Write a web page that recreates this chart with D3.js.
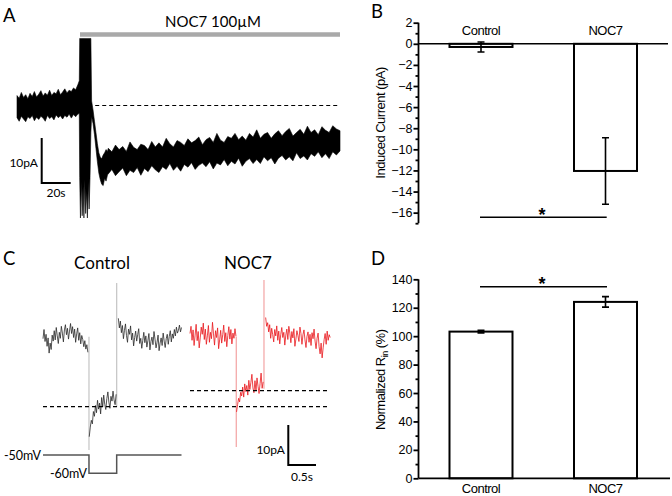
<!DOCTYPE html>
<html>
<head>
<meta charset="utf-8">
<script src="https://cdn.jsdelivr.net/npm/d3@7"></script>
<style>
  html, body { margin: 0; padding: 0; background: #fff; }
  svg { display: block; }
  .lbl { font-family: Lato, "Open Sans", sans-serif; fill: #000; }
  .ax text { font-family: "Liberation Sans", Arial, sans-serif; font-size: 12.5px; fill: #000; }
  .ax path, .ax line { stroke: #000; stroke-width: 1.8; }
  .arial { font-family: "Liberation Sans", Arial, sans-serif; fill: #000; }
</style>
</head>
<body>
<svg id="fig" width="672" height="496"></svg>
<script>
// ---------- Panel A: NOC7 induced current, rows are [time s, upper pA, lower pA] ----------
const aBaseline = [
  [0, 2.2, -2.7], [1.5, 1.6, -3.5], [3, 2.9, -2.4], [4.5, 1.8, -3.0], [6, 2.4, -3.6],
  [7.5, 1.5, -2.5], [9, 2.7, -2.9], [10.5, 2.0, -2.2], [12, 3.1, -3.4], [13.5, 1.9, -2.6],
  [15, 2.5, -3.1], [16.5, 3.3, -2.4], [18, 2.1, -2.8], [19.5, 2.8, -3.5], [21, 2.3, -2.2],
  [22.5, 3.4, -2.9], [24, 2.2, -2.5], [25.5, 2.9, -3.2], [27, 2.6, -2.1], [28.5, 3.6, -2.7],
  [30, 2.4, -2.3], [31.5, 3.0, -3.0], [33, 3.7, -2.2], [34.5, 2.8, -2.6], [36, 3.4, -1.9],
  [37.5, 3.1, -2.8], [39, 3.9, -2.0], [40.5, 3.5, -2.5], [42, 4.6, -1.9], [43, 5.5, -1.8]
];
const aArtifact = [
  [43.3, 14.9, -16], [43.8, 14.9, -25], [44.4, 14.9, -17], [45, 14.9, -24.5], [45.6, 14.9, -18],
  [46.2, 14.9, -25], [46.8, 14.9, -16.5], [47.4, 14.9, -24], [48, 14.9, -19], [48.6, 14.9, -25],
  [49.2, 14.9, -17], [49.8, 14.9, -23], [50.4, 14.9, -16], [51, 14.9, -6]
];
const aDecay = [
  [51.5, 1.0, -2.5], [52.5, -1.0, -4.0], [53.5, -3.5, -6.5], [54.5, -6.0, -9.5],
  [55.5, -8.5, -12.5], [56.5, -10.5, -15.0], [57.5, -11.5, -16.5], [58.5, -11.8, -17.5],
  [59.5, -11.0, -17.8], [60.5, -10.5, -16.2], [61.5, -9.8, -16.8], [62.5, -10.2, -15.4]
];
const aRecovery = [
  [63, -9.5, -15.2], [65.5, -10.3, -14.2], [68, -8.8, -15.6], [70.5, -9.8, -14.7], [73, -9.1, -13.9],
  [75.5, -10.2, -15.6], [78, -8.1, -14.4], [80.5, -9.3, -14.9], [83, -9.8, -13.8], [85.5, -8.6, -15.5],
  [88, -8.9, -14.0], [90.5, -9.8, -14.7], [93, -8.0, -13.4], [95.5, -9.2, -14.3], [98, -8.3, -14.9],
  [100.5, -9.2, -13.6], [103, -7.3, -14.2], [105.5, -8.5, -12.9], [108, -9.2, -14.4], [110.5, -7.8, -13.5],
  [113, -8.2, -14.6], [115.5, -8.9, -13.1], [118, -7.4, -13.7], [120.5, -8.3, -12.7], [123, -7.8, -14.2],
  [125.5, -7.0, -13.3], [128, -8.7, -12.8], [130.5, -7.6, -13.6], [133, -7.1, -12.5], [135.5, -8.2, -14.1],
  [138, -6.2, -12.8], [140.5, -7.7, -13.2], [143, -8.2, -12.0], [145.5, -6.9, -13.4], [148, -7.3, -12.4],
  [150.5, -6.2, -13.0], [153, -7.6, -11.7], [155.5, -6.8, -13.5], [158, -7.7, -12.4], [160.5, -6.2, -11.8],
  [163, -7.0, -12.9], [165.5, -5.4, -12.0], [168, -7.3, -12.9], [170.5, -6.4, -11.4], [173, -6.0, -12.3],
  [175.5, -7.3, -11.6], [178, -6.3, -13.0], [180.5, -5.6, -11.7], [183, -6.7, -11.1], [185.5, -5.8, -12.1],
  [188, -5.1, -11.4], [190.5, -6.8, -12.3], [193, -6.0, -10.5], [195.5, -5.3, -11.8], [198, -6.4, -11.2],
  [200.5, -4.6, -12.1], [203, -6.0, -10.7], [205.5, -5.4, -11.3], [208, -6.5, -10.3], [210.5, -4.7, -11.6],
  [213, -5.5, -10.7], [215.5, -6.0, -11.8], [218, -4.5, -10.3], [220.5, -5.2, -11.0], [223, -5.6, -10.1]
];
const aDrug = { label: "NOC7 100µM", start: 43.5, end: 223 };
const aScale = { pA: 10, s: 20 };

// ---------- Panel B: induced current ----------
const groups = ["Control", "NOC7"];
const currentMean = [-0.3, -12.05];
const currentSem = [0.47, 3.15];
const currentTicks = [-16, -14, -12, -10, -8, -6, -4, -2, 0, 2];
const currentMinor = [-17, -15, -13, -11, -9, -7, -5, -3, -1, 1];

// ---------- Panel C: Rin test pulses, values in pA sampled evenly over each segment ----------
const ctrlPre = [-0.5, 1.8, -1.2, 0.6, -2.4, -0.3, -4.1, -1.6, -3.2, 0.4, -1.1, 1.5, -0.8, 2.3, 0.2,
  -1.7, 1.1, -0.4, 2.6, 0.9, -1.3, 1.7, 3.0, 0.5, 2.1, -0.6, 1.4, 3.3, 0.8, 2.5, -0.2, 1.9, -1.4, 0.7,
  2.2, -0.9, 1.0, -1.8, 0.3, -0.7, -2.5, -1.0, -3.1, -2.0, -3.9];
const ctrlStep = [-25.0, -22.6, -20.9, -21.8, -18.7, -19.9, -17.2, -19.0, -15.9, -18.1, -16.6, -19.3,
  -15.2, -17.5, -14.6, -16.9, -18.2, -15.5, -13.8, -16.4, -17.9, -14.9, -16.1, -13.6, -15.8, -17.0, -14.4];
const ctrlPost = [4.6, 2.2, 3.9, 1.0, 2.8, -0.5, 1.6, 3.2, 0.3, -1.4, 1.9, 0.6, 2.7, -0.8, 0.9, -2.3,
  -0.2, 1.4, -1.1, 0.5, 2.0, -1.7, -0.4, -2.9, -0.9, 1.1, -1.5, 0.2, -2.6, -1.0, 0.8, -3.3, -1.2, -0.1,
  -2.0, 1.3, -0.6, -2.8, -1.4, 0.4, -3.5, -1.6, -0.3, -2.2, 0.9, -1.1, -2.7, -0.5, 0.6, -1.9, 0.1, 1.5,
  -1.3, 0.7, -0.4, 1.8, 0.2, 2.4, 0.9, 1.6, 2.9, 1.2, 2.3];
const nocPre = [0.8, 2.6, -0.9, 1.7, -2.2, 0.4, 3.1, -1.0, 1.3, -2.8, -0.3, 2.4, 0.6, 3.4, -0.7, 1.9,
  -1.9, 0.2, 2.8, -1.4, 1.1, -0.5, 3.6, 0.7, -2.1, 1.5, -0.2, 2.2, -3.0, -0.8, 1.6, -1.6, 0.5, 2.9,
  -1.2, 1.0, -2.5, 0.3, 2.5, -0.6, 1.8, -1.8, 0.9, -0.4, 2.0, 0.1];
const nocStep = [-18.8, -17.0, -15.4, -16.3, -13.9, -14.8, -12.6, -15.1, -11.8, -13.7, -12.2, -14.6,
  -10.9, -13.2, -11.5, -9.4, -12.8, -14.0, -11.0, -13.5, -10.3, -12.4, -14.2, -11.7, -9.1, -12.9, -11.3];
const nocPost = [4.8, 2.6, 3.5, 1.2, 3.0, -0.4, 2.1, 0.5, -1.3, 1.8, 0.2, 2.7, -0.9, 1.4, -1.8, 0.6,
  2.3, -0.2, 1.1, -2.1, 0.4, 1.9, -0.7, 2.6, 0.9, -1.5, 1.3, -0.3, 2.0, -2.4, -0.6, 1.5, 0.3, -1.2, 2.4,
  0.8, -1.9, 0.5, 1.7, -0.8, -2.7, 0.1, 1.2, -1.4, 0.6, -2.2, 1.0, -0.5, 1.9, -1.1, -3.0, -0.4, 0.9,
  -2.5, -4.3, -1.6, -5.3, -2.8, -0.7, 0.8, -1.9, 1.4, -0.9, 0.5, -0.2];
// segment time windows (s): pre, step, post
const ctrlWindows = [[0, 0.81], [0.835, 1.32], [1.36, 2.5]];
const nocWindows = [[0, 0.83], [0.84, 1.32], [1.365, 2.53]];
// capacitive transients: [time s, from pA, to pA]
const ctrlTransients = [[0.83, 0, -28.3], [1.33, 13.4, -17.5]];
const nocTransients = [[0.835, 0, -27.6], [1.335, 14.2, -13]];
const ctrlSteady = -17.5, nocSteady = -13.5;
const protocol = [[0, -50], [0.83, -50], [0.83, -60], [1.33, -60], [1.33, -50], [2.5, -50]];
const cScale = { pA: 10, s: 0.5 };

// ---------- Panel D: normalized Rin ----------
const rinMean = [103.2, 124.1];
const rinSem = [0.9, 3.7];
const rinTicks = [0, 20, 40, 60, 80, 100, 120, 140];
const rinMinor = [10, 30, 50, 70, 90, 110, 130];

const svg = d3.select("#fig");

// panel letters
[["A", 3, 22], ["B", 371, 18], ["C", 3, 265], ["D", 371, 265]].forEach(([t, x, y]) =>
  svg.append("text").attr("class", "lbl").attr("x", x).attr("y", y)
    .attr("font-size", 18.5).text(t));

// ===== A =====
const xA = d3.scaleLinear().domain([0, 223]).range([17, 340]);
const yA = d3.scaleLinear().domain([-25, 15]).range([218, 38]);
const gA = svg.append("g");

gA.append("line")
  .attr("x1", xA(aDrug.start)).attr("x2", xA(aDrug.end))
  .attr("y1", 34.5).attr("y2", 34.5)
  .attr("stroke", "#a9a9a9").attr("stroke-width", 4.5);
gA.append("text").attr("class", "lbl")
  .attr("x", 213).attr("y", 27).attr("text-anchor", "middle")
  .attr("font-size", 15).text(aDrug.label);

const areaA = d3.area()
  .x(d => xA(d[0])).y0(d => yA(d[2])).y1(d => yA(d[1]));
const traceA = aBaseline.concat(aArtifact, aDecay, aRecovery);
gA.append("path").datum(traceA)
  .attr("d", areaA).attr("fill", "#000")
  .attr("stroke", "#000").attr("stroke-width", 0.6);

gA.append("line")
  .attr("x1", xA(54)).attr("x2", xA(223))
  .attr("y1", yA(0)).attr("y2", yA(0))
  .attr("stroke", "#000").attr("stroke-width", 1.2).attr("stroke-dasharray", "4,3");

// scale bar A
const sbAx = 41.7, sbAy = 183;
const pxPerPA = yA(0) - yA(1), pxPerS = xA(1) - xA(0);
gA.append("path")
  .attr("d", `M${sbAx},${sbAy - aScale.pA * pxPerPA}V${sbAy}H${sbAx + aScale.s * pxPerS}`)
  .attr("fill", "none").attr("stroke", "#000").attr("stroke-width", 2);
gA.append("text").attr("class", "lbl").attr("x", 38).attr("y", 167)
  .attr("text-anchor", "end").attr("font-size", 12).text(aScale.pA + "pA");
gA.append("text").attr("class", "lbl").attr("x", 56).attr("y", 197)
  .attr("text-anchor", "middle").attr("font-size", 12).text(aScale.s + "s");

// ===== B and D shared x =====
const xBar = d3.scaleBand().domain(groups).range([418, 668.5])
  .paddingInner(0.494).paddingOuter(0.253);

function errorBars(g, means, sems, y) {
  groups.forEach((c, i) => {
    const cx = xBar(c) + xBar.bandwidth() / 2;
    const y1 = y(means[i] + sems[i]), y2 = y(means[i] - sems[i]);
    g.append("path")
      .attr("d", `M${cx},${y1}V${y2}M${cx - 3.5},${y1}H${cx + 3.5}M${cx - 3.5},${y2}H${cx + 3.5}`)
      .attr("stroke", "#000").attr("stroke-width", 1.6).attr("fill", "none");
  });
}

function yAxis(g, y, major, minor) {
  g.append("g").attr("class", "ax").attr("transform", "translate(418.5,0)")
    .call(d3.axisLeft(y).tickValues(minor).tickSize(3).tickFormat("").tickSizeOuter(0))
    .call(s => s.select(".domain").remove());
  g.append("g").attr("class", "ax").attr("transform", "translate(418.5,0)")
    .call(d3.axisLeft(y).tickValues(major).tickSize(5).tickPadding(1).tickSizeOuter(0))
    .call(s => s.select(".domain").attr("d", `M0,${y.range()[0]}V${y.range()[1]}`));
}

// ===== B =====
const yB = d3.scaleLinear().domain([-17, 2]).range([223.2, 22.7]);
const gB = svg.append("g");
yAxis(gB, yB, currentTicks, currentMinor);
gB.selectAll("rect.bar").data(groups).join("rect").attr("class", "bar")
  .attr("x", d => xBar(d)).attr("width", xBar.bandwidth())
  .attr("y", yB(0)).attr("height", (d, i) => yB(currentMean[i]) - yB(0))
  .attr("fill", "#fff").attr("stroke", "#000").attr("stroke-width", 2);
gB.append("line").attr("x1", 418.5).attr("x2", 668)
  .attr("y1", yB(0)).attr("y2", yB(0)).attr("stroke", "#000").attr("stroke-width", 1.6);
errorBars(gB, currentMean, currentSem, yB);
gB.selectAll("text.cat").data(groups).join("text").attr("class", "arial")
  .attr("x", d => xBar(d) + xBar.bandwidth() / 2).attr("y", 35)
  .attr("text-anchor", "middle").attr("font-size", 13).attr("letter-spacing", -0.5)
  .text(d => d);
gB.append("text").attr("class", "arial")
  .attr("transform", `translate(385,${yB(-7.5)}) rotate(-90)`)
  .attr("text-anchor", "middle").attr("font-size", 13).attr("letter-spacing", -0.5)
  .text("Induced Current (pA)");
gB.append("line").attr("x1", 480).attr("x2", 606.7).attr("y1", 217.3).attr("y2", 217.3)
  .attr("stroke", "#000").attr("stroke-width", 1.6);
gB.append("text").attr("class", "arial").attr("x", 542).attr("y", 221)
  .attr("text-anchor", "middle").attr("font-size", 18).attr("font-weight", "bold").text("*");

// ===== C =====
const gC = svg.append("g");
const yC = d3.scaleLinear().domain([-30, 15]).range([456.7, 276.7]);
const yV = d3.scaleLinear().domain([-60, -50]).range([473.3, 455]);
const xCtrl = d3.scaleLinear().domain([0, 2.5]).range([43, 181.5]);
const xNoc = d3.scaleLinear().domain([0, 2.53]).range([190, 330.2]);

function drawRecording(xs, segs, windows, transients, color, light) {
  transients.forEach(([t, a, b]) => {
    gC.append("line").attr("x1", xs(t)).attr("x2", xs(t))
      .attr("y1", yC(a)).attr("y2", yC(b))
      .attr("stroke", light).attr("stroke-width", 1.2);
  });
  segs.forEach((vals, k) => {
    const [t0, t1] = windows[k];
    const dt = (t1 - t0) / (vals.length - 1);
    const line = d3.line().x((v, i) => xs(t0 + i * dt)).y(v => yC(v));
    gC.append("path").datum(vals).attr("d", line)
      .attr("fill", "none").attr("stroke", color).attr("stroke-width", 0.8)
      .attr("stroke-linejoin", "round");
  });
}
drawRecording(xCtrl, [ctrlPre, ctrlStep, ctrlPost], ctrlWindows, ctrlTransients, "#2a2a2a", "#c4c4c4");
drawRecording(xNoc, [nocPre, nocStep, nocPost], nocWindows, nocTransients, "#e8161c", "#f3a3a3");

gC.append("line").attr("x1", 43).attr("x2", 330).attr("y1", yC(ctrlSteady)).attr("y2", yC(ctrlSteady))
  .attr("stroke", "#000").attr("stroke-width", 1.3).attr("stroke-dasharray", "4,3");
gC.append("line").attr("x1", 190).attr("x2", 330).attr("y1", yC(nocSteady)).attr("y2", yC(nocSteady))
  .attr("stroke", "#000").attr("stroke-width", 1.3).attr("stroke-dasharray", "4,3");

gC.append("path").datum(protocol)
  .attr("d", d3.line().x(d => xCtrl(d[0])).y(d => yV(d[1])))
  .attr("fill", "none").attr("stroke", "#555").attr("stroke-width", 1.5);
gC.append("text").attr("class", "lbl").attr("x", 41).attr("y", yV(-50) + 4.5)
  .attr("text-anchor", "end").attr("font-size", 12.5).text("-50mV");
gC.append("text").attr("class", "lbl").attr("x", 87).attr("y", yV(-60) + 4.5)
  .attr("text-anchor", "end").attr("font-size", 12.5).text("-60mV");

gC.append("text").attr("class", "lbl").attr("x", 102).attr("y", 269)
  .attr("text-anchor", "middle").attr("font-size", 17).text("Control");
gC.append("text").attr("class", "lbl").attr("x", 248).attr("y", 269)
  .attr("text-anchor", "middle").attr("font-size", 17).text("NOC7");

const sbCx = 288.3, sbCy = 465;
const cPA = yC(0) - yC(1), cS = xCtrl(1) - xCtrl(0);
gC.append("path")
  .attr("d", `M${sbCx},${sbCy - cScale.pA * cPA}V${sbCy}H${sbCx + cScale.s * cS}`)
  .attr("fill", "none").attr("stroke", "#000").attr("stroke-width", 2);
gC.append("text").attr("class", "lbl").attr("x", 285).attr("y", 453.5)
  .attr("text-anchor", "end").attr("font-size", 12).text(cScale.pA + "pA");
gC.append("text").attr("class", "lbl").attr("x", 302).attr("y", 481)
  .attr("text-anchor", "middle").attr("font-size", 12).text(cScale.s + "s");

// ===== D =====
const yD = d3.scaleLinear().domain([0, 140]).range([478.3, 279.3]);
const gD = svg.append("g");
yAxis(gD, yD, rinTicks, rinMinor);
gD.selectAll("rect.bar").data(groups).join("rect").attr("class", "bar")
  .attr("x", d => xBar(d)).attr("width", xBar.bandwidth())
  .attr("y", (d, i) => yD(rinMean[i])).attr("height", (d, i) => yD(0) - yD(rinMean[i]))
  .attr("fill", "#fff").attr("stroke", "#000").attr("stroke-width", 2);
gD.append("line").attr("x1", 418.5).attr("x2", 670)
  .attr("y1", yD(0)).attr("y2", yD(0)).attr("stroke", "#000").attr("stroke-width", 1.8);
errorBars(gD, rinMean, rinSem, yD);
gD.selectAll("text.cat").data(groups).join("text").attr("class", "arial")
  .attr("x", d => xBar(d) + xBar.bandwidth() / 2).attr("y", 493)
  .attr("text-anchor", "middle").attr("font-size", 13).attr("letter-spacing", -0.5)
  .text(d => d);
const yLab = gD.append("text").attr("class", "arial")
  .attr("transform", `translate(385,${yD(70) + 1}) rotate(-90)`)
  .attr("text-anchor", "middle").attr("font-size", 13).attr("letter-spacing", -0.5);
yLab.append("tspan").text("Normalized R");
yLab.append("tspan").attr("font-size", 9).attr("dy", 3).text("in");
yLab.append("tspan").attr("dy", -3).text(" (%)");
gD.append("line").attr("x1", 480).attr("x2", 607).attr("y1", 286.7).attr("y2", 286.7)
  .attr("stroke", "#000").attr("stroke-width", 1.6);
gD.append("text").attr("class", "arial").attr("x", 542).attr("y", 290)
  .attr("text-anchor", "middle").attr("font-size", 18).attr("font-weight", "bold").text("*");
</script>
</body>
</html>
